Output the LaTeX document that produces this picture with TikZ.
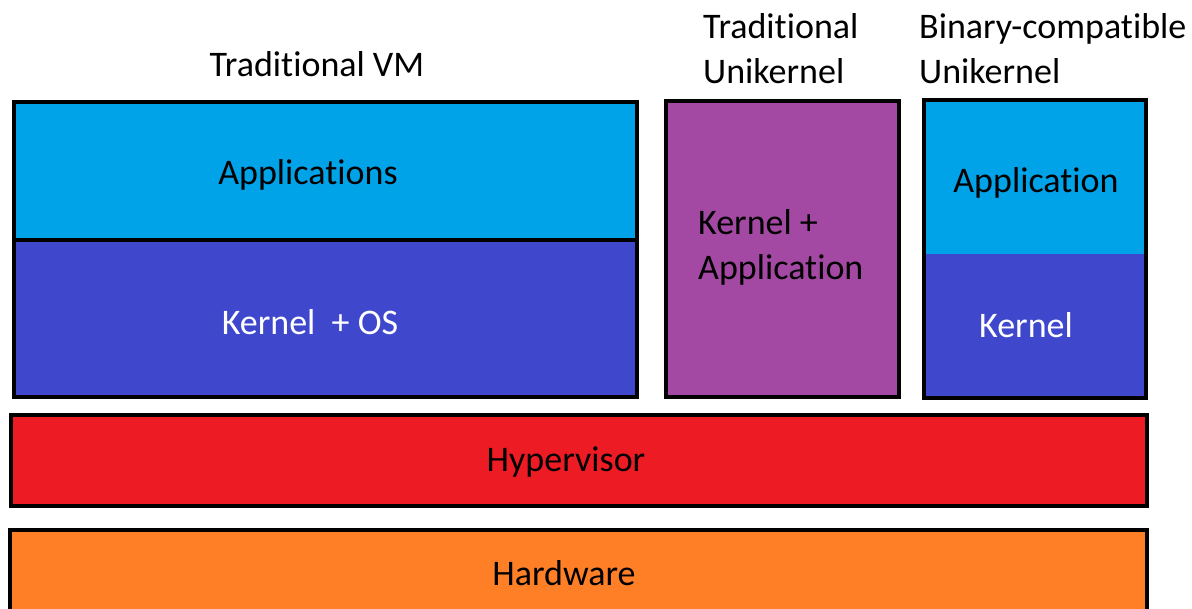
\documentclass[tikz,border=0pt]{standalone}
\usepackage{fontspec}
\setmainfont{Carlito}[Ligatures=NoCommon]
\usepackage{xcolor}
\usepackage{tikz}
\usetikzlibrary{positioning}

\definecolor{appcyan}{HTML}{00A2E8}
\definecolor{kernblue}{HTML}{3F48CC}
\definecolor{unipurple}{HTML}{A349A4}
\definecolor{hyperred}{HTML}{ED1C24}
\definecolor{hworange}{HTML}{FF7F27}

\begin{document}
\begin{tikzpicture}[x=1pt, y=-1pt,
  layer/.style={draw, line width=4.5pt, inner sep=0pt, outer sep=0pt, anchor=north west},
  plain/.style={inner sep=0pt, outer sep=0pt, anchor=north west},
  lbl/.style={inner sep=0pt, yshift=-2pt, font=\fontsize{36}{45}\selectfont},
]
\useasboundingbox (0,0) rectangle (1192,609);
\clip (0,0) rectangle (1192,609);

% traditional VM
\node[layer, fill=appcyan, minimum width=623pt, minimum height=138pt] (vmapps) at (14,102) {};
\node[layer, fill=kernblue, minimum width=623pt, minimum height=157pt, below=0pt of vmapps] (vmkern) {};

% traditional unikernel
\node[layer, fill=unipurple, minimum width=233pt, minimum height=296pt] (uni) at (666,101) {};

% binary-compatible unikernel
\node[plain, fill=appcyan, minimum width=222pt, minimum height=154pt] (bcapp) at (924,100) {};
\node[plain, fill=kernblue, minimum width=222pt, minimum height=144pt, below=0pt of bcapp] (bckern) {};
\draw[line width=4.5pt] (bcapp.north west) rectangle (bckern.south east);

% shared layers
\node[layer, fill=hyperred, minimum width=1136pt, minimum height=91pt] (hyper) at (11,415) {};
\node[layer, fill=hworange, minimum width=1137pt, minimum height=100pt] (hw) at (10,530) {};

% titles
\node[lbl] (vmtitle) at (317,62) {Traditional VM};
\node[lbl, align=left, anchor=west] (unititle) at (703,47) {Traditional\\Unikernel};
\node[lbl, align=left, anchor=west] (bctitle) at (919,47) {Binary-compatible\\Unikernel};

% box texts
\node[lbl] (vmappstxt) at (308,173) {Applications};
\node[lbl, text=white] (vmkerntxt) at (310,320) {Kernel~ + OS};
\node[lbl, align=left, anchor=west] (unitxt) at (698,245) {Kernel +\\Application};
\node[lbl] (bcapptxt) at (1036,181) {Application};
\node[lbl, text=white] (bckerntxt) at (1026,323) {Kernel};
\node[lbl] (hypertxt) at (566,460) {Hypervisor};
\node[lbl] (hwtxt) at (564,571) {Hardware};

\end{tikzpicture}
\end{document}
